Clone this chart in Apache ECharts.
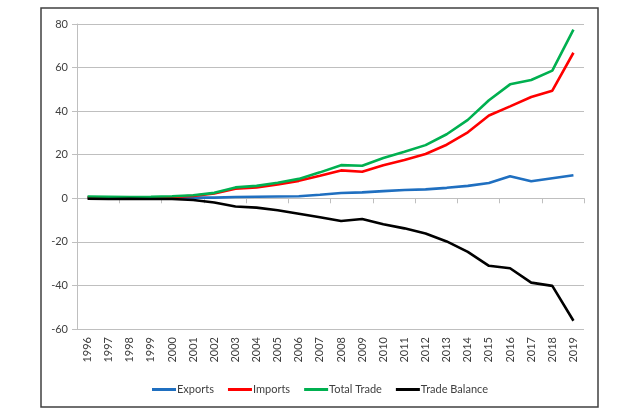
<!DOCTYPE html>
<html><head><meta charset="utf-8">
<script src="https://cdn.jsdelivr.net/npm/echarts@6/dist/echarts.min.js"></script>
<style>html,body{margin:0;padding:0;background:#fff}#c{width:640px;height:413px}</style>
</head><body><div id="c"></div>
<script>
var years = ['1996','1997','1998','1999','2000','2001','2002','2003','2004','2005','2006','2007','2008','2009','2010','2011','2012','2013','2014','2015','2016','2017','2018','2019'];
var exportsData = [0.3,0.2,0.2,0.2,0.3,0.3,0.3,0.6,0.7,0.8,0.9,1.6,2.4,2.7,3.3,3.8,4.1,4.8,5.7,7.0,10.1,7.8,9.2,10.6];
var importsData = [0.5,0.5,0.4,0.5,0.6,1.1,2.2,4.4,5.0,6.3,8.0,10.3,12.8,12.2,15.2,17.6,20.3,24.6,30.3,38.0,42.2,46.5,49.4,66.8];
var totalData = [0.8,0.7,0.6,0.7,0.9,1.4,2.5,5.0,5.7,7.1,8.9,11.9,15.2,14.9,18.5,21.4,24.4,29.4,36.0,45.0,52.3,54.3,58.6,77.4];
var balanceData = [-0.2,-0.3,-0.2,-0.3,-0.3,-0.8,-1.9,-3.8,-4.3,-5.5,-7.1,-8.7,-10.4,-9.5,-11.9,-13.8,-16.2,-19.8,-24.6,-31.0,-32.1,-38.7,-40.2,-56.2];
var yTicks = {min:-60, max:80, interval:20};

var chart = echarts.init(document.getElementById('c'), null, {renderer:'canvas'});
var font = 'Lato, "Liberation Sans", sans-serif';
var gray = '#bfbfbf';
function line(name, data, color){
  return {name:name, type:'line', data:data, xAxisIndex:0, symbol:'none', smooth:false,
    lineStyle:{color:color, width:2.6}, itemStyle:{color:color}, z:3};
}
chart.setOption({
  animation:false,
  graphic:[{type:'rect', shape:{x:41, y:8, width:557, height:399},
    style:{fill:'none', stroke:'#404040', lineWidth:1.5}, z:-1}],
  grid:{left:77, right:56, top:24, bottom:84, containLabel:false},
  legend:{top:379, left:'center', itemWidth:24, itemHeight:3, itemGap:14, icon:'rect',
    textStyle:{fontFamily:font, fontSize:11, color:'#404040', padding:[0,0,0,-4]},
    data:['Exports','Imports','Total Trade','Trade Balance']},
  xAxis:[
    {type:'category', data:years, position:'bottom', boundaryGap:true,
     axisLine:{show:false, onZero:false}, axisTick:{show:false},
     axisLabel:{rotate:90, fontFamily:font, fontSize:11, color:'#404040', margin:8}},
    {type:'category', data:years, position:'bottom', boundaryGap:true,
     axisLine:{show:true, onZero:true, lineStyle:{color:gray, width:1}},
     axisTick:{show:true, length:5, lineStyle:{color:gray}},
     axisLabel:{show:false}}
  ],
  yAxis:{type:'value', min:yTicks.min, max:yTicks.max, interval:yTicks.interval,
    axisLine:{show:true, lineStyle:{color:gray}},
    axisTick:{show:true, length:5, lineStyle:{color:gray}},
    axisLabel:{fontFamily:font, fontSize:11, color:'#404040', margin:9},
    splitLine:{show:true, lineStyle:{color:gray, width:1}}},
  series:[
    line('Exports', exportsData, '#1f6fc0'),
    line('Imports', importsData, '#ff0000'),
    line('Total Trade', totalData, '#00b050'),
    line('Trade Balance', balanceData, '#000000')
  ]
});
</script></body></html>
